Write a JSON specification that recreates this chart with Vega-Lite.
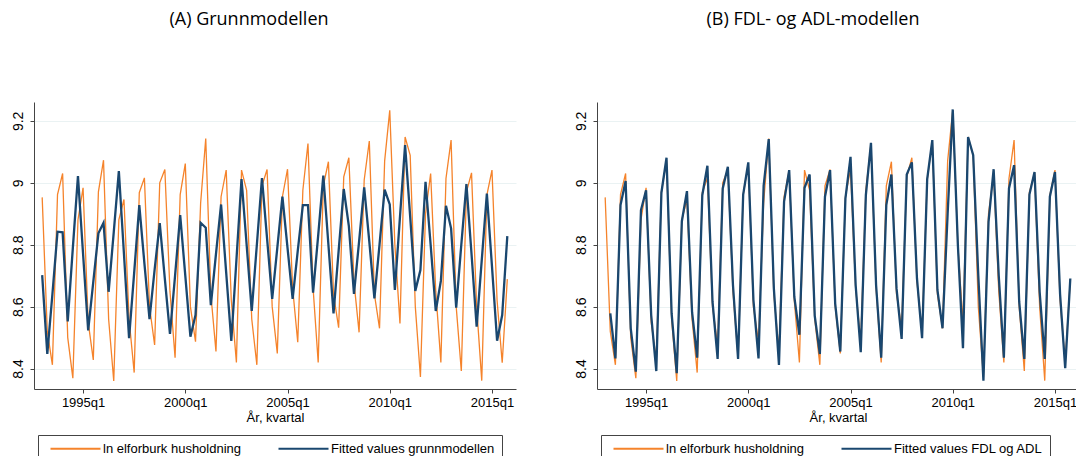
{
  "$schema": "https://vega.github.io/schema/vega-lite/v6.json",
  "background": "white",
  "padding": {"left": 5, "top": 11, "right": 0, "bottom": 0},
  "config": {
    "font": "Liberation Sans",
    "view": {"stroke": null},
    "title": {"font": "Open Sans", "fontSize": 18, "fontWeight": "normal", "color": "#000000", "anchor": "middle", "offset": 73},
    "axis": {
      "labelFont": "Liberation Sans", "labelFontSize": 13, "labelColor": "#000000",
      "titleFont": "Liberation Sans", "titleFontSize": 13, "titleFontWeight": "normal", "titleColor": "#000000",
      "domainColor": "#444444", "tickColor": "#444444", "tickSize": 4,
      "gridColor": "#EAF2F3", "gridWidth": 1
    },
    "legend": {
      "orient": "none", "legendX": 4, "legendY": 333, "direction": "horizontal",
      "strokeColor": "#444444", "padding": 7, "columnPadding": 31,
      "symbolType": "M-25,0H25", "symbolSize": 4, "symbolOffset": 24, "symbolStrokeWidth": 2, "labelOffset": 21,
      "labelFont": "Liberation Sans", "labelFontSize": 13, "labelColor": "#000000", "labelLimit": 400,
      "title": null
    }
  },
  "datasets": {
    "kv": [
      {"t":132,"y":8.953,"a":8.702},
      {"t":133,"y":8.52,"a":8.447,"b":8.578},
      {"t":134,"y":8.412,"a":8.64,"b":8.433},
      {"t":135,"y":8.962,"a":8.842,"b":8.928},
      {"t":136,"y":9.030,"a":8.840,"b":9.006},
      {"t":137,"y":8.50,"a":8.552,"b":8.530},
      {"t":138,"y":8.369,"a":8.79,"b":8.390},
      {"t":139,"y":8.88,"a":9.022,"b":8.912},
      {"t":140,"y":8.984,"a":8.77,"b":8.976},
      {"t":141,"y":8.55,"a":8.523,"b":8.573},
      {"t":142,"y":8.428,"a":8.68,"b":8.392},
      {"t":143,"y":8.971,"a":8.837,"b":8.968},
      {"t":144,"y":9.073,"a":8.871,"b":9.081},
      {"t":145,"y":8.56,"a":8.648,"b":8.578},
      {"t":146,"y":8.360,"a":8.84,"b":8.385},
      {"t":147,"y":8.880,"a":9.038,"b":8.876},
      {"t":148,"y":8.946,"a":8.77,"b":8.973},
      {"t":149,"y":8.56,"a":8.498,"b":8.582},
      {"t":150,"y":8.387,"a":8.71,"b":8.435},
      {"t":151,"y":8.968,"a":8.928,"b":8.960},
      {"t":152,"y":9.016,"a":8.74,"b":9.055},
      {"t":153,"y":8.60,"a":8.56,"b":8.616},
      {"t":154,"y":8.476,"a":8.72,"b":8.431},
      {"t":155,"y":9.000,"a":8.87,"b":8.982},
      {"t":156,"y":9.043,"a":8.69,"b":9.052},
      {"t":157,"y":8.65,"a":8.512,"b":8.670},
      {"t":158,"y":8.435,"a":8.70,"b":8.431},
      {"t":159,"y":8.962,"a":8.896,"b":8.962},
      {"t":160,"y":9.062,"a":8.70,"b":9.066},
      {"t":161,"y":8.60,"a":8.503,"b":8.622},
      {"t":162,"y":8.487,"a":8.573,"b":8.433},
      {"t":163,"y":8.935,"a":8.871,"b":8.99},
      {"t":164,"y":9.143,"a":8.855,"b":9.141},
      {"t":165,"y":8.64,"a":8.605,"b":8.659},
      {"t":166,"y":8.455,"a":8.77,"b":8.412},
      {"t":167,"y":8.955,"a":8.93,"b":8.939},
      {"t":168,"y":9.041,"a":8.71,"b":9.041},
      {"t":169,"y":8.62,"a":8.489,"b":8.632},
      {"t":170,"y":8.420,"a":8.75,"b":8.509},
      {"t":171,"y":9.041,"a":9.012,"b":8.984},
      {"t":172,"y":8.976,"a":8.80,"b":9.027},
      {"t":173,"y":8.56,"a":8.586,"b":8.570},
      {"t":174,"y":8.412,"a":8.80,"b":8.447},
      {"t":175,"y":8.99,"a":9.015,"b":8.955},
      {"t":176,"y":9.043,"a":8.82,"b":9.041},
      {"t":177,"y":8.60,"a":8.625,"b":8.61},
      {"t":178,"y":8.449,"a":8.79,"b":8.455},
      {"t":179,"y":8.955,"a":8.955,"b":8.949},
      {"t":180,"y":9.044,"a":8.79,"b":9.084},
      {"t":181,"y":8.66,"a":8.625,"b":8.67},
      {"t":182,"y":8.485,"a":8.78,"b":8.453},
      {"t":183,"y":8.976,"a":8.928,"b":8.960},
      {"t":184,"y":9.127,"a":8.928,"b":9.129},
      {"t":185,"y":8.66,"a":8.645,"b":8.670},
      {"t":186,"y":8.420,"a":8.83,"b":8.435},
      {"t":187,"y":8.99,"a":9.023,"b":8.928},
      {"t":188,"y":9.068,"a":8.80,"b":9.027},
      {"t":189,"y":8.64,"a":8.578,"b":8.659},
      {"t":190,"y":8.532,"a":8.78,"b":8.496},
      {"t":191,"y":9.019,"a":8.980,"b":9.027},
      {"t":192,"y":9.081,"a":8.86,"b":9.066},
      {"t":193,"y":8.68,"a":8.641,"b":8.691},
      {"t":194,"y":8.517,"a":8.81,"b":8.498},
      {"t":195,"y":9.009,"a":8.985,"b":9.012},
      {"t":196,"y":9.135,"a":8.81,"b":9.138},
      {"t":197,"y":8.64,"a":8.627,"b":8.654},
      {"t":198,"y":8.530,"a":8.80,"b":8.530},
      {"t":199,"y":9.070,"a":8.978,"b":8.90},
      {"t":200,"y":9.234,"a":8.930,"b":9.237},
      {"t":201,"y":8.80,"a":8.654,"b":8.80},
      {"t":202,"y":8.546,"a":8.89,"b":8.466},
      {"t":203,"y":9.148,"a":9.122,"b":9.148},
      {"t":204,"y":9.089,"a":8.89,"b":9.089},
      {"t":205,"y":8.60,"a":8.651,"b":8.70},
      {"t":206,"y":8.373,"a":8.718,"b":8.361},
      {"t":207,"y":8.90,"a":9.003,"b":8.874},
      {"t":208,"y":9.030,"a":8.80,"b":9.044},
      {"t":209,"y":8.65,"a":8.586,"b":8.70},
      {"t":210,"y":8.420,"a":8.683,"b":8.435},
      {"t":211,"y":9.014,"a":8.926,"b":8.982},
      {"t":212,"y":9.138,"a":8.853,"b":9.057},
      {"t":213,"y":8.60,"a":8.597,"b":8.616},
      {"t":214,"y":8.392,"a":8.80,"b":8.431},
      {"t":215,"y":8.97,"a":8.996,"b":8.962},
      {"t":216,"y":9.032,"a":8.77,"b":9.035},
      {"t":217,"y":8.60,"a":8.535,"b":8.648},
      {"t":218,"y":8.361,"a":8.75,"b":8.431},
      {"t":219,"y":8.96,"a":8.965,"b":8.955},
      {"t":220,"y":9.041,"a":8.73,"b":9.035},
      {"t":221,"y":8.62,"a":8.490,"b":8.64},
      {"t":222,"y":8.419,"a":8.573,"b":8.401},
      {"t":223,"y":8.689,"a":8.828,"b":8.691}
    ]
  },
  "resolve": {"scale": {"x": "independent", "y": "independent", "color": "independent"}, "legend": {"color": "independent"}},
  "spacing": 52,
  "hconcat": [
    {
      "title": {"text": "(A) Grunnmodellen", "dx": -26},
      "width": 482, "height": 287,
      "data": {"name": "kv"},
      "encoding": {
        "x": {"field": "t", "type": "quantitative",
          "scale": {"domain": [130.4, 224.7], "nice": false, "zero": false},
          "axis": {"values": [140, 160, 180, 200, 220], "labelExpr": "floor(datum.value / 4) + 1960 + 'q' + (datum.value % 4 + 1)", "title": "År, kvartal", "grid": false, "labelPadding": 3, "titlePadding": 2, "labelFlush": false}}
      },
      "layer": [
        {"mark": {"type": "line", "strokeWidth": 1.3, "interpolate": "linear"},
         "encoding": {
           "y": {"field": "y", "type": "quantitative",
             "scale": {"domain": [8.334, 9.261], "nice": false, "zero": false},
             "axis": {"values": [8.4, 8.6, 8.8, 9, 9.2], "format": ".2~f", "title": null, "grid": true, "labelAngle": -90, "labelAlign": "center", "labelBaseline": "bottom", "labelPadding": 5, "labelFontSize": 14, "minExtent": 29, "maxExtent": 29}},
           "color": {"datum": "ln elforburk husholdning", "type": "nominal",
             "scale": {"domain": ["ln elforburk husholdning", "Fitted values grunnmodellen"], "range": ["#F5832B", "#1A476F"]}}
         }},
        {"mark": {"type": "line", "strokeWidth": 2.3, "interpolate": "linear"},
         "encoding": {
           "y": {"field": "a", "type": "quantitative"},
           "color": {"datum": "Fitted values grunnmodellen", "type": "nominal"}
         }}
      ]
    },
    {
      "title": {"text": "(B) FDL- og ADL-modellen", "dx": -25},
      "width": 482, "height": 287,
      "data": {"name": "kv"},
      "encoding": {
        "x": {"field": "t", "type": "quantitative",
          "scale": {"domain": [130.4, 224.7], "nice": false, "zero": false},
          "axis": {"values": [140, 160, 180, 200, 220], "labelExpr": "floor(datum.value / 4) + 1960 + 'q' + (datum.value % 4 + 1)", "title": "År, kvartal", "grid": false, "labelPadding": 3, "titlePadding": 2, "labelFlush": false}}
      },
      "layer": [
        {"mark": {"type": "line", "strokeWidth": 1.3, "interpolate": "linear"},
         "encoding": {
           "y": {"field": "y", "type": "quantitative",
             "scale": {"domain": [8.334, 9.261], "nice": false, "zero": false},
             "axis": {"values": [8.4, 8.6, 8.8, 9, 9.2], "format": ".2~f", "title": null, "grid": true, "labelAngle": -90, "labelAlign": "center", "labelBaseline": "bottom", "labelPadding": 5, "labelFontSize": 14, "minExtent": 29, "maxExtent": 29}},
           "color": {"datum": "ln elforburk husholdning", "type": "nominal",
             "scale": {"domain": ["ln elforburk husholdning", "Fitted values FDL og ADL"], "range": ["#F5832B", "#1A476F"]}}
         }},
        {"transform": [{"filter": "isValid(datum.b)"}],
         "mark": {"type": "line", "strokeWidth": 2.3, "interpolate": "linear"},
         "encoding": {
           "y": {"field": "b", "type": "quantitative"},
           "color": {"datum": "Fitted values FDL og ADL", "type": "nominal"}
         }}
      ]
    }
  ]
}
